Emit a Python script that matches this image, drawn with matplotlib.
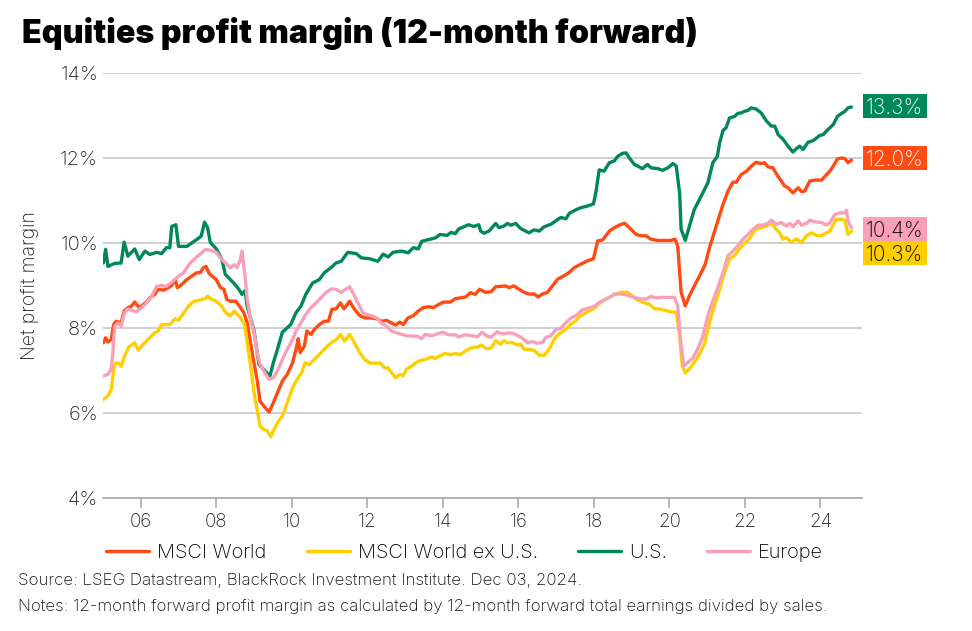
import matplotlib
matplotlib.use("Agg")
import matplotlib.pyplot as plt
from matplotlib.ticker import FixedLocator, FuncFormatter
from matplotlib.patches import Rectangle
import matplotlib.transforms as mtransforms

plt.rcParams['font.family'] = ['Inter', 'DejaVu Sans']

# ---- data (decimal year, net profit margin %) ----
world = [
    (2005.01, 7.65), (2005.07, 7.77), (2005.13, 7.67), (2005.22, 7.73), (2005.28, 8.08), (2005.35, 8.16),
    (2005.48, 8.12), (2005.56, 8.40), (2005.66, 8.48), (2005.75, 8.51), (2005.84, 8.61), (2005.96, 8.48),
    (2006.06, 8.55), (2006.15, 8.61), (2006.24, 8.71), (2006.37, 8.79), (2006.46, 8.91), (2006.60, 8.89),
    (2006.73, 8.95), (2006.82, 9.00), (2006.91, 9.14), (2006.97, 8.95), (2007.08, 9.02), (2007.22, 9.14),
    (2007.35, 9.22), (2007.48, 9.30), (2007.57, 9.30), (2007.66, 9.42), (2007.73, 9.45), (2007.80, 9.30),
    (2007.86, 9.24), (2008.00, 9.14), (2008.11, 8.95), (2008.20, 8.91), (2008.28, 8.67), (2008.37, 8.63),
    (2008.51, 8.63), (2008.62, 8.51), (2008.73, 8.36), (2008.82, 8.12), (2008.95, 7.42), (2009.08, 6.79),
    (2009.16, 6.28), (2009.26, 6.16), (2009.40, 6.02), (2009.51, 6.24), (2009.62, 6.48), (2009.75, 6.75),
    (2009.88, 6.91), (2010.02, 7.18), (2010.13, 7.57), (2010.17, 7.75), (2010.22, 7.42), (2010.33, 7.57),
    (2010.40, 7.93), (2010.51, 7.85), (2010.60, 7.97), (2010.73, 8.08), (2010.86, 8.16), (2010.97, 8.16),
    (2011.06, 8.44), (2011.17, 8.45), (2011.29, 8.59), (2011.38, 8.45), (2011.53, 8.63), (2011.66, 8.44),
    (2011.80, 8.29), (2011.93, 8.24), (2012.06, 8.24), (2012.24, 8.22), (2012.37, 8.16), (2012.51, 8.18),
    (2012.64, 8.12), (2012.75, 8.07), (2012.86, 8.14), (2012.95, 8.08), (2013.08, 8.24), (2013.22, 8.29),
    (2013.35, 8.40), (2013.48, 8.48), (2013.62, 8.50), (2013.75, 8.48), (2013.88, 8.55), (2014.02, 8.61),
    (2014.20, 8.61), (2014.33, 8.69), (2014.46, 8.71), (2014.60, 8.73), (2014.73, 8.83), (2014.86, 8.79),
    (2014.97, 8.91), (2015.13, 8.84), (2015.27, 8.85), (2015.40, 8.97), (2015.53, 8.98), (2015.66, 8.99),
    (2015.75, 8.95), (2015.88, 8.99), (2016.02, 8.91), (2016.15, 8.84), (2016.28, 8.80), (2016.42, 8.80),
    (2016.52, 8.73), (2016.64, 8.80), (2016.77, 8.84), (2016.90, 8.99), (2017.04, 9.15), (2017.21, 9.23),
    (2017.35, 9.31), (2017.48, 9.42), (2017.65, 9.50), (2017.83, 9.58), (2017.99, 9.63), (2018.10, 10.05),
    (2018.23, 10.07), (2018.41, 10.28), (2018.54, 10.36), (2018.72, 10.44), (2018.82, 10.46), (2018.94, 10.36),
    (2019.12, 10.20), (2019.25, 10.17), (2019.38, 10.17), (2019.51, 10.09), (2019.69, 10.06), (2019.87, 10.06),
    (2020.04, 10.06), (2020.15, 10.09), (2020.22, 9.93), (2020.31, 8.84), (2020.42, 8.52), (2020.53, 8.76),
    (2020.66, 8.99), (2020.80, 9.23), (2020.95, 9.50), (2021.06, 9.89), (2021.19, 10.26), (2021.30, 10.57),
    (2021.42, 10.91), (2021.55, 11.22), (2021.68, 11.43), (2021.77, 11.43), (2021.90, 11.61), (2022.04, 11.69),
    (2022.17, 11.81), (2022.30, 11.90), (2022.43, 11.87), (2022.52, 11.89), (2022.61, 11.79), (2022.74, 11.77),
    (2022.88, 11.56), (2022.96, 11.46), (2023.05, 11.34), (2023.14, 11.30), (2023.27, 11.18), (2023.41, 11.30),
    (2023.50, 11.21), (2023.58, 11.22), (2023.72, 11.46), (2023.85, 11.48), (2024.03, 11.48), (2024.12, 11.57),
    (2024.25, 11.69), (2024.34, 11.81), (2024.45, 11.98), (2024.56, 12.00), (2024.65, 11.98), (2024.73, 11.89),
    (2024.82, 11.95),
]

world_ex_us = [
    (2005.01, 6.32), (2005.13, 6.40), (2005.22, 6.55), (2005.28, 6.99), (2005.33, 7.18), (2005.42, 7.17),
    (2005.48, 7.10), (2005.57, 7.34), (2005.69, 7.56), (2005.84, 7.65), (2005.93, 7.48), (2006.06, 7.61),
    (2006.24, 7.77), (2006.37, 7.89), (2006.46, 7.93), (2006.55, 8.08), (2006.68, 8.08), (2006.77, 8.08),
    (2006.91, 8.22), (2007.00, 8.18), (2007.13, 8.34), (2007.26, 8.51), (2007.40, 8.63), (2007.57, 8.66),
    (2007.71, 8.69), (2007.77, 8.75), (2007.88, 8.67), (2008.00, 8.63), (2008.15, 8.51), (2008.24, 8.37),
    (2008.37, 8.29), (2008.48, 8.40), (2008.64, 8.24), (2008.75, 8.08), (2008.82, 7.65), (2008.91, 7.10),
    (2009.00, 6.48), (2009.08, 6.08), (2009.16, 5.69), (2009.26, 5.61), (2009.35, 5.58), (2009.44, 5.44),
    (2009.53, 5.61), (2009.62, 5.77), (2009.75, 5.93), (2009.88, 6.24), (2010.02, 6.59), (2010.11, 6.75),
    (2010.20, 6.87), (2010.26, 6.95), (2010.35, 7.18), (2010.46, 7.14), (2010.60, 7.26), (2010.73, 7.38),
    (2010.86, 7.50), (2011.04, 7.65), (2011.17, 7.72), (2011.29, 7.85), (2011.40, 7.69), (2011.53, 7.85),
    (2011.66, 7.65), (2011.80, 7.42), (2011.93, 7.26), (2012.06, 7.18), (2012.20, 7.17), (2012.33, 7.18),
    (2012.46, 7.06), (2012.55, 7.06), (2012.64, 6.95), (2012.75, 6.83), (2012.86, 6.91), (2012.95, 6.88),
    (2013.04, 7.03), (2013.17, 7.10), (2013.35, 7.22), (2013.53, 7.26), (2013.71, 7.32), (2013.80, 7.28),
    (2013.93, 7.35), (2014.06, 7.40), (2014.20, 7.37), (2014.33, 7.40), (2014.46, 7.37), (2014.60, 7.46),
    (2014.77, 7.54), (2014.95, 7.56), (2015.02, 7.60), (2015.13, 7.52), (2015.27, 7.52), (2015.40, 7.70),
    (2015.53, 7.62), (2015.62, 7.70), (2015.71, 7.65), (2015.84, 7.66), (2015.97, 7.60), (2016.06, 7.62),
    (2016.15, 7.50), (2016.28, 7.50), (2016.42, 7.47), (2016.55, 7.36), (2016.68, 7.36), (2016.81, 7.49),
    (2016.95, 7.74), (2017.08, 7.86), (2017.26, 7.97), (2017.39, 8.09), (2017.52, 8.17), (2017.65, 8.29),
    (2017.83, 8.38), (2018.01, 8.46), (2018.14, 8.58), (2018.32, 8.68), (2018.45, 8.74), (2018.58, 8.80),
    (2018.72, 8.84), (2018.89, 8.84), (2019.03, 8.74), (2019.16, 8.66), (2019.34, 8.59), (2019.47, 8.56),
    (2019.60, 8.46), (2019.78, 8.44), (2019.91, 8.41), (2020.04, 8.38), (2020.18, 8.37), (2020.27, 7.82),
    (2020.34, 7.11), (2020.42, 6.94), (2020.53, 7.04), (2020.66, 7.19), (2020.80, 7.39), (2020.93, 7.62),
    (2021.06, 8.13), (2021.19, 8.52), (2021.33, 8.91), (2021.46, 9.31), (2021.59, 9.62), (2021.73, 9.71),
    (2021.86, 9.87), (2021.99, 9.99), (2022.12, 10.10), (2022.26, 10.31), (2022.43, 10.36), (2022.57, 10.40),
    (2022.70, 10.48), (2022.79, 10.36), (2022.92, 10.24), (2023.01, 10.09), (2023.10, 10.13), (2023.23, 10.01),
    (2023.36, 10.10), (2023.50, 10.01), (2023.63, 10.17), (2023.76, 10.24), (2023.89, 10.18), (2024.03, 10.17),
    (2024.16, 10.24), (2024.25, 10.28), (2024.34, 10.44), (2024.42, 10.56), (2024.56, 10.56), (2024.65, 10.53),
    (2024.73, 10.20), (2024.82, 10.28),
]

us = [
    (2005.01, 9.53), (2005.07, 9.85), (2005.13, 9.45), (2005.31, 9.52), (2005.48, 9.53), (2005.56, 10.02),
    (2005.66, 9.69), (2005.84, 9.86), (2005.96, 9.61), (2006.11, 9.81), (2006.24, 9.73), (2006.42, 9.78),
    (2006.55, 9.75), (2006.68, 9.89), (2006.77, 9.89), (2006.82, 10.39), (2006.93, 10.43), (2007.00, 9.92),
    (2007.22, 9.92), (2007.48, 10.08), (2007.60, 10.16), (2007.69, 10.49), (2007.77, 10.36), (2007.84, 10.02),
    (2008.00, 9.86), (2008.15, 9.61), (2008.24, 9.26), (2008.46, 9.06), (2008.60, 8.91), (2008.68, 8.79),
    (2008.76, 8.88), (2008.82, 8.51), (2009.00, 7.93), (2009.13, 7.14), (2009.42, 6.87), (2009.51, 7.18),
    (2009.62, 7.50), (2009.75, 7.90), (2009.97, 8.08), (2010.11, 8.36), (2010.24, 8.51), (2010.37, 8.79),
    (2010.55, 9.06), (2010.73, 9.14), (2010.86, 9.30), (2011.04, 9.42), (2011.17, 9.53), (2011.31, 9.57),
    (2011.48, 9.78), (2011.71, 9.75), (2011.84, 9.65), (2012.06, 9.63), (2012.28, 9.57), (2012.42, 9.74),
    (2012.55, 9.67), (2012.68, 9.78), (2012.91, 9.81), (2013.08, 9.77), (2013.22, 9.89), (2013.35, 9.86),
    (2013.44, 10.04), (2013.62, 10.08), (2013.80, 10.12), (2013.93, 10.20), (2014.11, 10.18), (2014.22, 10.25),
    (2014.33, 10.22), (2014.42, 10.33), (2014.55, 10.38), (2014.68, 10.43), (2014.82, 10.39), (2014.95, 10.43),
    (2015.00, 10.28), (2015.09, 10.23), (2015.22, 10.28), (2015.40, 10.46), (2015.49, 10.36), (2015.62, 10.40),
    (2015.71, 10.46), (2015.80, 10.42), (2015.93, 10.46), (2016.06, 10.34), (2016.28, 10.24), (2016.42, 10.31),
    (2016.55, 10.28), (2016.68, 10.38), (2016.86, 10.44), (2016.99, 10.52), (2017.12, 10.60), (2017.26, 10.57),
    (2017.35, 10.70), (2017.52, 10.78), (2017.65, 10.83), (2017.83, 10.87), (2017.99, 10.92), (2018.05, 11.18),
    (2018.14, 11.72), (2018.27, 11.69), (2018.41, 11.89), (2018.54, 11.93), (2018.63, 12.04), (2018.76, 12.11),
    (2018.85, 12.12), (2018.94, 12.00), (2019.07, 11.85), (2019.20, 11.79), (2019.29, 11.75), (2019.42, 11.85),
    (2019.51, 11.77), (2019.69, 11.75), (2019.82, 11.71), (2019.96, 11.77), (2020.09, 11.87), (2020.18, 11.81),
    (2020.27, 11.18), (2020.31, 10.32), (2020.42, 10.06), (2020.53, 10.40), (2020.66, 10.79), (2020.84, 11.10),
    (2021.02, 11.42), (2021.15, 11.89), (2021.27, 12.04), (2021.33, 12.36), (2021.42, 12.65), (2021.50, 12.71),
    (2021.59, 12.94), (2021.73, 12.98), (2021.81, 13.05), (2021.90, 13.06), (2021.99, 13.10), (2022.08, 13.12),
    (2022.17, 13.18), (2022.30, 13.15), (2022.43, 13.06), (2022.57, 12.87), (2022.70, 12.75), (2022.79, 12.75),
    (2022.88, 12.55), (2023.01, 12.44), (2023.14, 12.28), (2023.27, 12.14), (2023.36, 12.22), (2023.45, 12.28),
    (2023.54, 12.20), (2023.67, 12.37), (2023.81, 12.41), (2023.98, 12.53), (2024.07, 12.55), (2024.20, 12.67),
    (2024.34, 12.79), (2024.45, 12.98), (2024.56, 13.05), (2024.65, 13.10), (2024.73, 13.18), (2024.82, 13.20),
]

europe = [
    (2005.01, 6.87), (2005.13, 6.91), (2005.22, 7.03), (2005.26, 7.42), (2005.31, 8.04), (2005.40, 8.12),
    (2005.48, 8.04), (2005.57, 8.36), (2005.66, 8.45), (2005.75, 8.42), (2005.88, 8.38), (2006.02, 8.48),
    (2006.15, 8.59), (2006.28, 8.73), (2006.42, 8.98), (2006.55, 9.00), (2006.68, 8.98), (2006.82, 9.08),
    (2006.95, 9.18), (2007.13, 9.30), (2007.31, 9.53), (2007.48, 9.67), (2007.62, 9.77), (2007.71, 9.85),
    (2007.84, 9.83), (2008.00, 9.78), (2008.11, 9.65), (2008.24, 9.53), (2008.37, 9.42), (2008.48, 9.49),
    (2008.55, 9.42), (2008.64, 9.61), (2008.68, 9.81), (2008.75, 9.30), (2008.82, 8.67), (2008.91, 8.20),
    (2009.00, 7.89), (2009.08, 7.42), (2009.16, 7.14), (2009.26, 6.99), (2009.40, 6.79), (2009.51, 6.83),
    (2009.62, 6.99), (2009.75, 7.26), (2009.88, 7.50), (2010.02, 7.73), (2010.11, 7.93), (2010.24, 8.12),
    (2010.37, 8.32), (2010.51, 8.48), (2010.64, 8.59), (2010.77, 8.71), (2010.90, 8.83), (2011.04, 8.92),
    (2011.17, 8.91), (2011.31, 8.84), (2011.44, 8.92), (2011.53, 8.97), (2011.62, 8.83), (2011.75, 8.59),
    (2011.88, 8.36), (2011.97, 8.32), (2012.11, 8.29), (2012.24, 8.24), (2012.37, 8.12), (2012.51, 8.04),
    (2012.64, 7.93), (2012.77, 7.89), (2012.91, 7.85), (2013.04, 7.82), (2013.17, 7.81), (2013.31, 7.81),
    (2013.44, 7.75), (2013.53, 7.85), (2013.71, 7.82), (2013.88, 7.87), (2014.02, 7.90), (2014.15, 7.84),
    (2014.33, 7.84), (2014.42, 7.79), (2014.60, 7.84), (2014.77, 7.82), (2014.91, 7.79), (2015.04, 7.90),
    (2015.17, 7.81), (2015.27, 7.78), (2015.44, 7.91), (2015.58, 7.86), (2015.71, 7.88), (2015.84, 7.88),
    (2015.97, 7.83), (2016.11, 7.76), (2016.24, 7.65), (2016.37, 7.68), (2016.50, 7.64), (2016.64, 7.66),
    (2016.73, 7.78), (2016.86, 7.82), (2016.99, 7.96), (2017.12, 7.99), (2017.26, 8.13), (2017.39, 8.23),
    (2017.52, 8.29), (2017.70, 8.43), (2017.83, 8.46), (2018.01, 8.51), (2018.14, 8.60), (2018.27, 8.66),
    (2018.41, 8.72), (2018.54, 8.80), (2018.72, 8.80), (2018.89, 8.77), (2019.07, 8.72), (2019.25, 8.68),
    (2019.38, 8.68), (2019.51, 8.74), (2019.65, 8.71), (2019.82, 8.72), (2020.00, 8.72), (2020.13, 8.72),
    (2020.22, 8.52), (2020.29, 7.74), (2020.38, 7.11), (2020.49, 7.19), (2020.62, 7.29), (2020.75, 7.51),
    (2020.88, 7.78), (2021.02, 8.29), (2021.15, 8.64), (2021.28, 8.95), (2021.42, 9.31), (2021.55, 9.70),
    (2021.68, 9.81), (2021.81, 9.93), (2021.95, 10.09), (2022.08, 10.20), (2022.21, 10.32), (2022.35, 10.42),
    (2022.48, 10.42), (2022.61, 10.46), (2022.70, 10.54), (2022.83, 10.44), (2022.96, 10.48), (2023.10, 10.40),
    (2023.19, 10.46), (2023.27, 10.38), (2023.41, 10.52), (2023.50, 10.42), (2023.63, 10.46), (2023.72, 10.54),
    (2023.85, 10.50), (2024.03, 10.48), (2024.16, 10.42), (2024.25, 10.48), (2024.38, 10.67), (2024.51, 10.71),
    (2024.65, 10.71), (2024.69, 10.77), (2024.73, 10.52), (2024.82, 10.36),
]

series_names = ["MSCI World", "MSCI World ex U.S.", "U.S.", "Europe"]
series_data = [world, world_ex_us, us, europe]
series_colors = ["#FF4A12", "#FFCE00", "#00875A", "#F9A0B8"]

end_labels = ["12.0%", "10.3%", "13.3%", "10.4%"]
end_label_pos = [11.99, 9.765, 13.224, 10.33]     # vertical centres of the value tags
end_label_text_color = ["white", "black", "white", "black"]

year_ticks = [2006, 2008, 2010, 2012, 2014, 2016, 2018, 2020, 2022, 2024]
y_ticks = [4, 6, 8, 10, 12, 14]

TXT = '#222222'

# ---- figure ----
fig = plt.figure(figsize=(9.72, 6.31), dpi=100)
ax_w_px = 862 - 103
ax_h_px = 498 - 73
ax = fig.add_axes([103 / 972, 1 - 498 / 631, ax_w_px / 972, ax_h_px / 631])

for name, data, col in zip(series_names, series_data, series_colors):
    t = [p[0] for p in data]
    v = [p[1] for p in data]
    ax.plot(t, v, color=col, lw=2.4, label=name, solid_joinstyle='round', solid_capstyle='round')

ax.set_xlim(2005.0, 2025.1)
ax.set_ylim(4, 14)
ax.yaxis.set_major_locator(FixedLocator(y_ticks))
ax.yaxis.set_major_formatter(FuncFormatter(lambda v, p: f"{v:.0f}%"))
ax.xaxis.set_major_locator(FixedLocator(year_ticks))
ax.xaxis.set_major_formatter(FuncFormatter(lambda v, p: f"{int(round(v)) % 100:02d}"))

ax.grid(axis='y', color='#c8c8c8', lw=1.2)
ax.set_axisbelow(True)
for s in ['top', 'right', 'left']:
    ax.spines[s].set_visible(False)
ax.spines['bottom'].set_color('#aaaaaa')
ax.spines['bottom'].set_linewidth(1.2)
ax.tick_params(axis='y', length=0, labelsize=14.5, pad=3.5, labelcolor=TXT)
ax.tick_params(axis='x', length=7, width=1.2, color='#aaaaaa', labelsize=13.5, pad=4, labelcolor=TXT)
for lab in ax.get_xticklabels() + ax.get_yticklabels():
    lab.set_fontweight('light')
ax.set_ylabel("Net profit margin", fontsize=14, color=TXT, fontweight='light')
ax.yaxis.set_label_coords(-(103 - 39) / ax_w_px, 0.5)

# end value tags (fixed-size boxes just right of the plot area)
tag_tr = mtransforms.blended_transform_factory(ax.transAxes, ax.transData)
box_w = (927 - 863) / ax_w_px
box_h = 24 / (ax_h_px / 10.0)
for lab, pos, col, tc in zip(end_labels, end_label_pos, series_colors, end_label_text_color):
    ax.add_patch(Rectangle((1.0 + 1 / ax_w_px, pos - box_h / 2), box_w, box_h, transform=tag_tr,
                           facecolor=col, edgecolor='none', clip_on=False, zorder=5))
    ax.text(1.0 + 4 / ax_w_px, pos, lab, transform=tag_tr, ha='left', va='center_baseline',
            fontsize=15, color=tc, fontweight='light', clip_on=False, zorder=6)

fig.text(22 / 972, 1 - 33 / 631, "Equities profit margin (12-month forward)",
         fontsize=23.2, fontweight='black', ha='left', va='center', color='black')

handles, labels = ax.get_legend_handles_labels()
leg = fig.legend(handles, labels, loc='center', bbox_to_anchor=(0.478, 1 - 553 / 631), ncol=4,
                 frameon=False, fontsize=14.4, handlelength=2.15, handletextpad=0.4, columnspacing=2.0)
for txt in leg.get_texts():
    txt.set_fontweight('light')

fig.text(18 / 972, 1 - 581 / 631, "Source: LSEG Datastream, BlackRock Investment Institute. Dec 03, 2024.",
         fontsize=12.2, ha='left', va='center', color='#111111', fontweight='light')
fig.text(18 / 972, 1 - 606 / 631,
         "Notes: 12-month forward profit margin as calculated by 12-month forward total earnings divided by sales.",
         fontsize=12.2, ha='left', va='center', color='#111111', fontweight='light')

fig.savefig("out.png", dpi=100)
